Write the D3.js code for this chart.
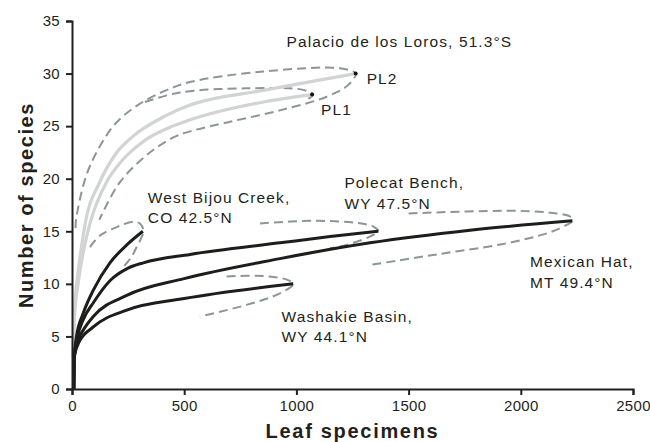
<!DOCTYPE html>
<html>
<head>
<meta charset="utf-8">
<script src="https://cdn.jsdelivr.net/npm/d3@7"></script>
<style>
  body { margin: 0; background: #fff; }
  svg text { font-family: "Liberation Sans", Arial, sans-serif; fill: #231f20; }
</style>
</head>
<body>
<div id="chart"></div>
<script>
// rarefaction curves: [leaf specimens, species]
const westBijou = [[8,0],[10,3],[20,5],[50,7.2],[95,9.4],[169,12],[244,13.7],[316,15]];
const polecatBench = [[8,0],[10,3],[25,5],[50,6.6],[95,8.2],[169,10.3],[250,11.5],[318,12],[526,12.8],[927,13.9],[1150,14.5],[1365,15]];
const mexicanHat = [[8,0],[10,3],[30,4.8],[50,5.6],[95,6.9],[244,8.9],[500,10.5],[927,12.4],[1328,13.9],[1774,15.1],[2230,16]];
const washakie = [[8,0],[10,3],[30,4.4],[95,5.9],[244,7.5],[500,8.6],[986,10]];
const pl1 = [[5,3],[10,6.5],[30,10.4],[55,13.5],[85,16.1],[152,19.6],[226,21.8],[315,23.5],[449,25],[526,25.6],[853,27.3],[1070,28]];
const pl2 = [[5,3],[10,7],[25,10.8],[40,13.2],[62,16.1],[122,19.6],[196,22.4],[270,24],[419,26],[526,27],[853,28.4],[1264,30]];

// 95% confidence envelopes (upper branch out to the end point, lower branch back)
const westBijouCI = [[80,13.5],[125,14.6],[199,15.4],[273,15.9],[305,15.7],[318,15],[305,14.2],[288,13.5],[266,12.6],[229,11.6]];
const polecatCI = [[838,15.75],[1075,16],[1269,15.8],[1343,15.45],[1365,15],[1328,14.5],[1224,13.7],[1150,13.4]];
const mexicanCI = [[1500,16.7],[1982,16.95],[2160,16.7],[2219,16.4],[2230,16],[2204,15.6],[2130,14.9],[1922,13.8],[1625,12.8],[1328,11.8]];
const washakieCI = [[689,10.7],[853,10.75],[957,10.4],[986,10],[927,9.1],[778,8],[570,6.9]];
const pl2CI = [[16,15.3],[18,16.1],[62,20.2],[122,23],[196,25.3],[300,27.1],[419,28.4],[526,29.2],[853,30.2],[1194,30.5],[1264,30],[1230,28.9],[1135,27.8],[927,26.5],[700,25.4],[526,24.5],[449,23.9],[330,22.2],[211,19.6],[122,16.1]];
const pl1CI = [[325,27.3],[481,28.2],[778,28.6],[1031,28.45],[1073,28],[1053,27.6]];

const endDots = [[1070,28],[1264,30]];

const labels = [
  { lines: ['Palacio de los Loros, 51.3°S'], x: 956, y: 32.5 },
  { lines: ['PL2'], x: 1313, y: 29 },
  { lines: ['PL1'], x: 1110, y: 26.1 },
  { lines: ['West Bijou Creek,', 'CO 42.5°N'], x: 338, y: 17.7 },
  { lines: ['Polecat Bench,', 'WY 47.5°N'], x: 1214, y: 19.1 },
  { lines: ['Mexican Hat,', 'MT 49.4°N'], x: 2041, y: 11.6 },
  { lines: ['Washakie Basin,', 'WY 44.1°N'], x: 934, y: 6.4 }
];

const xTicks = [0, 500, 1000, 1500, 2000, 2500];
const yTicks = [0, 5, 10, 15, 20, 25, 30, 35];

const margin = { top: 21, right: 17, bottom: 53, left: 72 };
const width = 650 - margin.left - margin.right;
const height = 442 - margin.top - margin.bottom;

const svg = d3.select('#chart')
  .append('svg')
  .attr('width', 650)
  .attr('height', 442)
  .append('g')
  .attr('transform', 'translate(' + margin.left + ',' + margin.top + ')');

const x = d3.scaleLinear().domain([0, 2500]).range([0, width]);
const y = d3.scaleLinear().domain([0, 35]).range([height, 0]);

const line = d3.line()
  .x(d => x(d[0]))
  .y(d => y(d[1]))
  .curve(d3.curveMonotoneX);

const loop = d3.line()
  .x(d => x(d[0]))
  .y(d => y(d[1]))
  .curve(d3.curveCatmullRom.alpha(0.5));

// dashed envelopes
[pl2CI, pl1CI, westBijouCI, polecatCI, mexicanCI, washakieCI].forEach(d => {
  svg.append('path')
    .attr('d', loop(d))
    .attr('fill', 'none')
    .attr('stroke', '#8c9698')
    .attr('stroke-width', 2)
    .attr('stroke-dasharray', '9,5');
});

// light grey Palacio de los Loros curves
[pl2, pl1].forEach(d => {
  svg.append('path')
    .attr('d', line(d))
    .attr('fill', 'none')
    .attr('stroke', '#d1d3d4')
    .attr('stroke-width', 3.2);
});

// black North American curves
[washakie, mexicanHat, polecatBench, westBijou].forEach(d => {
  svg.append('path')
    .attr('d', line(d))
    .attr('fill', 'none')
    .attr('stroke', '#1d1d1b')
    .attr('stroke-width', 3);
});

svg.selectAll('circle.end')
  .data(endDots)
  .enter()
  .append('circle')
  .attr('class', 'end')
  .attr('cx', d => x(d[0]))
  .attr('cy', d => y(d[1]))
  .attr('r', 2)
  .attr('fill', '#111');

// axes
const xAxis = svg.append('g')
  .attr('transform', 'translate(0,' + height + ')')
  .call(d3.axisBottom(x).tickValues(xTicks).tickFormat(d3.format('d')).tickSize(6).tickPadding(5));

const yAxis = svg.append('g')
  .call(d3.axisLeft(y).tickValues(yTicks).tickSize(6).tickPadding(6));

[xAxis, yAxis].forEach(g => {
  g.select('.domain').attr('stroke', '#231f20').attr('stroke-width', 2);
  g.selectAll('.tick line').attr('stroke', '#231f20').attr('stroke-width', 2);
  g.selectAll('.tick text')
    .attr('fill', '#231f20')
    .style('font-family', '"Liberation Sans", Arial, sans-serif')
    .style('font-size', '15px')
    .style('letter-spacing', '0.3px');
});

// axis titles
svg.append('text')
  .attr('x', width / 2)
  .attr('y', height + 49)
  .attr('text-anchor', 'middle')
  .style('font-size', '20px')
  .style('font-weight', 'bold')
  .style('letter-spacing', '1.7px')
  .text('Leaf specimens');

svg.append('text')
  .attr('transform', 'translate(' + (33 - margin.left) + ',' + height / 2 + ') rotate(-90)')
  .attr('text-anchor', 'middle')
  .style('font-size', '20px')
  .style('font-weight', 'bold')
  .style('letter-spacing', '1.6px')
  .text('Number of species');

// site labels
labels.forEach(l => {
  const t = svg.append('text')
    .attr('x', x(l.x))
    .attr('y', y(l.y))
    .style('font-size', '15.5px')
    .style('letter-spacing', '1.1px');
  l.lines.forEach((s, i) => {
    t.append('tspan')
      .attr('x', x(l.x))
      .attr('dy', i === 0 ? 0 : 20.5)
      .text(s);
  });
});
</script>
</body>
</html>
